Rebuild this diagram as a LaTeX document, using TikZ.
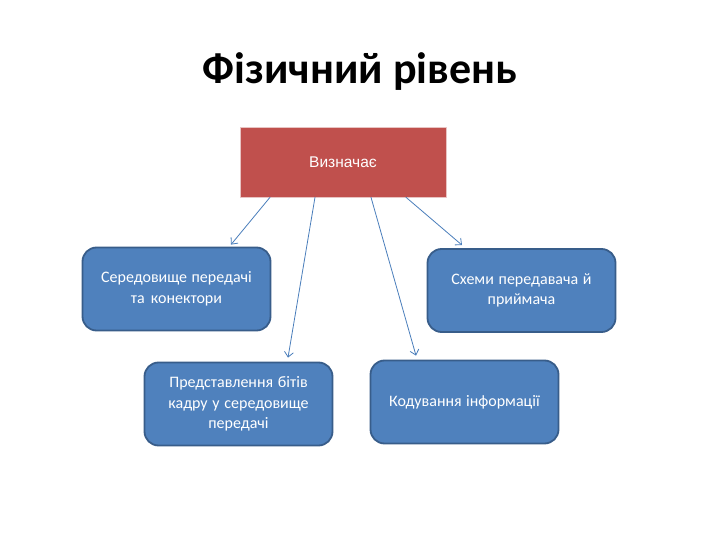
\documentclass[tikz,border=0pt]{standalone}
\usepackage{fontspec}
\setmainfont{Carlito}
\newfontfamily\arialfont{Liberation Sans}
\definecolor{boxblue}{HTML}{4F81BD}
\definecolor{boxedge}{HTML}{385D8A}
\definecolor{boxred}{HTML}{C0504D}
\definecolor{rededge}{HTML}{E8C4C3}
\definecolor{linkblue}{HTML}{4A7EBB}
\begin{document}
\begin{tikzpicture}[x=1pt,y=-1pt,line cap=round,line join=round,
  bluebox/.style={draw=boxedge,line width=1.8pt,fill=boxblue,rounded corners=14pt,
    minimum width=188pt,minimum height=83pt,inner sep=0pt,text width=180pt,align=center,
    text=white,font=\fontsize{16}{20.5}\selectfont,
    execute at begin node={\spaceskip=0pt\xspaceskip=0pt\relax}},
  redbox/.style={draw=rededge,line width=0.6pt,fill=boxred,minimum width=206pt,
    minimum height=70pt,inner sep=0pt,text=white,font=\arialfont\fontsize{15.5}{18}\selectfont},
  link/.style={draw=linkblue,line width=0.8pt,-{Straight Barb[length=5pt,width=9pt]}}]
  \useasboundingbox (0,0) rectangle (720,540);
  \fill[white] (0,0) rectangle (720,540);
  \usetikzlibrary{arrows.meta}
  \node[font=\fontsize{44}{50}\selectfont\bfseries] (title) at (360,72) {Фізичний рівень};
  \node[redbox] (vyz) at (343,162) {Визначає};
  \node[bluebox] (sered) at (176.5,289) {Середовище передачі\\та конектори};
  \node[bluebox] (shemy) at (521.5,290.5) {Схеми передавача й\\приймача};
  \node[bluebox] (pred) at (238.5,404) {Представлення бітів\\кадру у середовище\\передачі};
  \node[bluebox] (kod) at (464.5,402) {Кодування інформації};
  \draw[link] ([xshift=-73pt]vyz.south) -- ([xshift=54.5pt,yshift=2pt]sered.north);
  \draw[link] ([xshift=-28pt]vyz.south) -- ([xshift=49.5pt,yshift=4pt]pred.north);
  \draw[link] ([xshift=28pt]vyz.south) -- ([xshift=-48.5pt,yshift=4pt]kod.north);
  \draw[link] ([xshift=63pt]vyz.south) -- ([xshift=-59.5pt,yshift=3pt]shemy.north);
\end{tikzpicture}
\end{document}
